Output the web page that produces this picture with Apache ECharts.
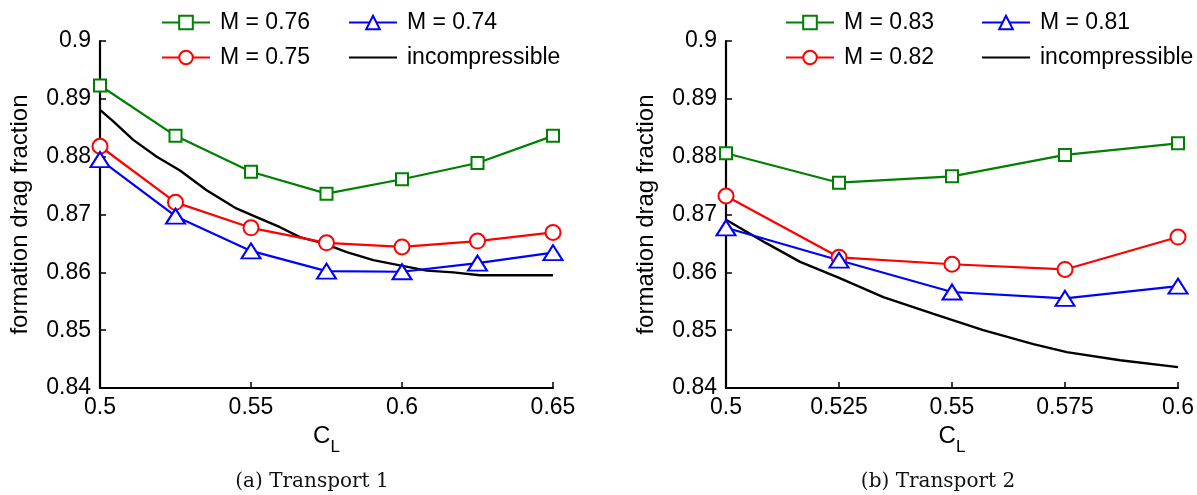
<!DOCTYPE html>
<html>
<head>
<meta charset="utf-8">
<script src="https://cdn.jsdelivr.net/npm/echarts@6/dist/echarts.min.js"></script>
<style>
html,body{margin:0;padding:0;background:#fff;}
#chart{width:1197px;height:495px;}
</style>
</head>
<body>
<div id="chart"></div>
<script>
// ---- Data ----
const leftX = [0.5, 0.525, 0.55, 0.575, 0.6, 0.625, 0.65];
const leftM076 = [0.8923, 0.8836, 0.8774, 0.8736, 0.8761, 0.8789, 0.8836];
const leftM075 = [0.8818, 0.8721, 0.8677, 0.8651, 0.8644, 0.8654, 0.8669];
const leftM074 = [0.8795, 0.8697, 0.8637, 0.8602, 0.8601, 0.8616, 0.8634];
const leftIncX = [0.5, 0.5044, 0.511, 0.5188, 0.5265, 0.5353, 0.5453, 0.553, 0.5596, 0.5662, 0.574, 0.5817, 0.5905, 0.5993, 0.6082, 0.617, 0.6258, 0.6375, 0.65];
const leftIncY = [0.8881, 0.8861, 0.8829, 0.8800, 0.8776, 0.8742, 0.8710, 0.8693, 0.8678, 0.8661, 0.8650, 0.8635, 0.8621, 0.8612, 0.8603, 0.8600, 0.8595, 0.8595, 0.8595];

const rightX = [0.5, 0.525, 0.55, 0.575, 0.6];
const rightM083 = [0.8806, 0.8755, 0.8766, 0.8803, 0.8823];
const rightM082 = [0.8732, 0.8626, 0.8614, 0.8605, 0.8661];
const rightM081 = [0.8677, 0.8621, 0.8566, 0.8555, 0.8576];
const rightIncX = [0.5, 0.509, 0.5164, 0.5249, 0.5348, 0.5459, 0.5569, 0.568, 0.5754, 0.5872, 0.6];
const rightIncY = [0.8691, 0.8650, 0.8618, 0.8591, 0.8557, 0.8528, 0.8500, 0.8476, 0.8462, 0.8448, 0.8436];

const yTicks = [0.84, 0.85, 0.86, 0.87, 0.88, 0.89, 0.9];
const leftXTicks = [0.5, 0.55, 0.6, 0.65];
const rightXTicks = [0.5, 0.525, 0.55, 0.575, 0.6];

const leftNames = ['M = 0.76', 'M = 0.75', 'M = 0.74', 'incompressible'];
const rightNames = ['M = 0.83', 'M = 0.82', 'M = 0.81', 'incompressible '];
const yLabel = 'formation drag fraction';
const captions = ['(a) Transport 1', '(b) Transport 2'];

// ---- Helpers ----
const FONT = 'Liberation Sans';
const zip = (xs, ys) => xs.map((x, i) => [x, ys[i]]);
const fmt = v => String(+(+v).toFixed(4));

function xAxisCfg(gridIndex, ticks) {
  return {
    type: 'value', gridIndex: gridIndex,
    min: ticks[0], max: ticks[ticks.length - 1],
    interval: ticks[1] - ticks[0],
    name: '{c|C}{s|L}', nameLocation: 'middle', nameGap: 33,
    nameTextStyle: {
      rich: {
        c: {fontFamily: FONT, fontSize: 24, color: '#000', lineHeight: 24, verticalAlign: 'top'},
        s: {fontFamily: FONT, fontSize: 17, color: '#000', lineHeight: 17, verticalAlign: 'top', padding: [15, 0, 0, 0]}
      }
    },
    axisLine: {show: true, onZero: false, lineStyle: {color: '#000', width: 2.2}},
    axisTick: {show: true, inside: true, length: 6, lineStyle: {color: '#000', width: 1.5}},
    axisLabel: {fontFamily: FONT, fontSize: 23, color: '#000', margin: 8, formatter: v => fmt(v),
      showMinLabel: true, showMaxLabel: true},
    splitLine: {show: false}
  };
}
function yAxisCfg(gridIndex) {
  return {
    type: 'value', gridIndex: gridIndex,
    min: yTicks[0], max: yTicks[yTicks.length - 1], interval: 0.01,
    name: yLabel, nameLocation: 'middle', nameRotate: 90, nameGap: 68,
    nameTextStyle: {fontFamily: FONT, fontSize: 24, color: '#000'},
    axisLine: {show: true, onZero: false, lineStyle: {color: '#000', width: 2.2}},
    axisTick: {show: true, inside: true, length: 6, lineStyle: {color: '#000', width: 1.5}},
    axisLabel: {fontFamily: FONT, fontSize: 23, color: '#000', margin: 9, formatter: v => fmt(v),
      showMinLabel: true, showMaxLabel: true},
    splitLine: {show: false}
  };
}
const GREEN = '#008000', RED = '#ff0000', BLUE = '#0000ff', BLACK = '#000000';
function markSeries(name, xs, ys, idx, color, symbol, size) {
  return {
    name: name, type: 'line', xAxisIndex: idx, yAxisIndex: idx,
    data: zip(xs, ys), symbol: symbol, symbolSize: size, showSymbol: true,
    lineStyle: {color: color, width: 2.2}, itemStyle: {color: '#fff', borderColor: color, borderWidth: 2},
    z: 3, animation: false
  };
}
function lineSeries(name, xs, ys, idx) {
  return {
    name: name, type: 'line', xAxisIndex: idx, yAxisIndex: idx,
    data: zip(xs, ys), symbol: 'none', showSymbol: false,
    lineStyle: {color: BLACK, width: 2.4}, itemStyle: {color: BLACK}, z: 2, animation: false
  };
}
function legendCfg(name, left, top, hideSymbol) {
  const cfg = {
    data: [name], left: left, top: top, padding: 0, itemWidth: 48, itemHeight: 17,
    textStyle: {fontFamily: FONT, fontSize: 23, color: '#000', padding: [0, 0, 0, 5]},
    selectedMode: false
  };
  if (hideSymbol) cfg.itemStyle = {opacity: 0};
  return cfg;
}

const chart = echarts.init(document.getElementById('chart'), null, {renderer: 'canvas'});
chart.setOption({
  animation: false,
  backgroundColor: '#fff',
  grid: [
    {left: 100, right: 644, top: 41, bottom: 107},
    {left: 726, right: 19, top: 41, bottom: 107}
  ],
  xAxis: [xAxisCfg(0, leftXTicks), xAxisCfg(1, rightXTicks)],
  yAxis: [yAxisCfg(0), yAxisCfg(1)],
  legend: [
    legendCfg(leftNames[0], 161, 11),
    legendCfg(leftNames[2], 348, 11),
    legendCfg(leftNames[1], 161, 46),
    legendCfg(leftNames[3], 348, 46, true),
    legendCfg(rightNames[0], 785, 11),
    legendCfg(rightNames[2], 981, 11),
    legendCfg(rightNames[1], 785, 46),
    legendCfg(rightNames[3], 981, 46, true)
  ],
  series: [
    lineSeries(leftNames[3], leftIncX, leftIncY, 0),
    markSeries(leftNames[0], leftX, leftM076, 0, GREEN, 'rect', 12),
    markSeries(leftNames[1], leftX, leftM075, 0, RED, 'circle', 15),
    markSeries(leftNames[2], leftX, leftM074, 0, BLUE, 'triangle', [19, 15]),
    lineSeries(rightNames[3], rightIncX, rightIncY, 1),
    markSeries(rightNames[0], rightX, rightM083, 1, GREEN, 'rect', 12),
    markSeries(rightNames[1], rightX, rightM082, 1, RED, 'circle', 15),
    markSeries(rightNames[2], rightX, rightM081, 1, BLUE, 'triangle', [19, 15])
  ],
  graphic: [
    {type: 'text', x: 312, y: 482, style: {text: captions[0], font: '20px "DejaVu Serif"', fill: '#111', align: 'center', verticalAlign: 'middle'}},
    {type: 'text', x: 938, y: 482, style: {text: captions[1], font: '20px "DejaVu Serif"', fill: '#111', align: 'center', verticalAlign: 'middle'}}
  ]
});
</script>
</body>
</html>
